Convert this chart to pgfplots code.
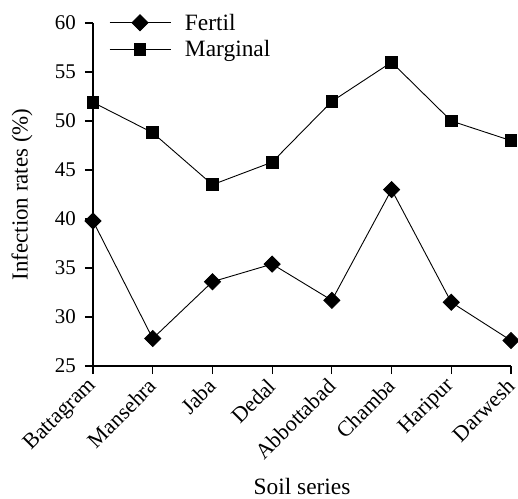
\documentclass[border=0pt]{standalone}
\usepackage{fontspec}
\setmainfont{Liberation Serif}
\usepackage{pgfplots}
\pgfplotsset{compat=1.18}
\begin{document}
\begin{tikzpicture}[x=1bp,y=1bp]
\useasboundingbox (-93bp,-133bp) rectangle (425bp,366bp);
\begin{axis}[
  at={(0,0)}, anchor=south west,
  scale only axis, width=418bp, height=343bp,
  xmin=0, xmax=7, ymin=25, ymax=60,
  axis x line*=bottom, axis y line*=left,
  axis line style={line width=1.3bp, -},
  xtick={0,...,7},
  xticklabels={Battagram,Mansehra,Jaba,Dedal,Abbottabad,Chamba,Haripur,Darwesh},
  ytick={25,30,...,60},
  tick style={line width=1.2bp, black},
  tick align=outside, major tick length=8bp,
  /pgf/number format/assume math mode=true,
  xticklabel style={rotate=45, anchor=east, inner sep=0pt, xshift=-6bp, yshift=-6bp, font=\fontsize{22}{24}\selectfont},
  yticklabel style={inner sep=2bp, xshift=-7bp, font=\fontsize{21}{22}\selectfont},
  ylabel={Infection rates (\%)},
  xlabel={Soil series},
  ylabel style={at={(axis description cs:0,0.5)}, anchor=center, yshift=71bp, font=\fontsize{23}{25}\selectfont},
  xlabel style={at={(axis description cs:0.5,0)}, anchor=center, inner sep=0pt, yshift=-120bp, font=\fontsize{23.5}{25}\selectfont},
  clip=false,
  legend style={draw=none, fill=none, at={(axis description cs:0.038,1.03)}, anchor=north west, inner sep=0pt, row sep=7bp, column sep=13bp, font=\fontsize{23.5}{25}\selectfont, legend cell align=left, nodes={inner sep=1bp}},
  legend image code/.code={\draw[mark repeat=2,mark phase=2] plot coordinates {(0bp,0bp) (30.5bp,0bp) (61bp,0bp)};},
]
\addplot[black, line width=0.9bp, mark=square*, mark size=5.66bp, mark options={rotate=45, solid}] coordinates {
(0,39.8) (1,27.8) (2,33.6) (3,35.4) (4,31.7) (5,43.0) (6,31.5) (7,27.6)};
\addlegendentry{Fertil}
\addplot[black, line width=0.9bp, mark=square*, mark size=5.9bp, mark options={solid}] coordinates {
(0,51.9) (1,48.8) (2,43.5) (3,45.8) (4,52.0) (5,56.0) (6,50.0) (7,48.0)};
\addlegendentry{Marginal}
\end{axis}
\end{tikzpicture}
\end{document}
